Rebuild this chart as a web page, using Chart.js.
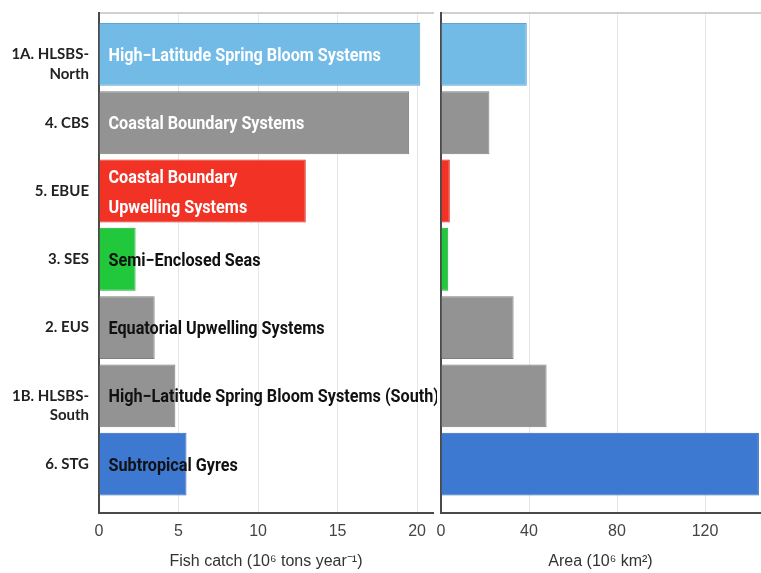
<!DOCTYPE html>
<html>
<head>
<meta charset="utf-8">
<script src="https://cdn.jsdelivr.net/npm/chart.js@4/dist/chart.umd.min.js"></script>
<style>
  html, body { margin: 0; padding: 0; background: #fff; }
  #wrap { position: relative; width: 761px; height: 573px; overflow: hidden; }
  .panel { position: absolute; top: 0; }
  #catchBox { left: 0; width: 437px; height: 573px; }
  #areaBox { left: 437px; width: 324px; height: 573px; }
</style>
</head>
<body>
<div id="wrap">
  <div class="panel" id="catchBox"><canvas id="catchChart"></canvas></div>
  <div class="panel" id="areaBox"><canvas id="areaChart"></canvas></div>
</div>
<script>
// Biome codes shown on the left axis (top to bottom)
const regionCodes = [
  ['1A. HLSBS-', 'North'],
  ['4. CBS'],
  ['5. EBUE'],
  ['3. SES'],
  ['2. EUS'],
  ['1B. HLSBS-', 'South'],
  ['6. STG']
];

// Full biome names written inside the catch bars
const biomeNames = [
  ['High\u2212Latitude Spring Bloom Systems'],
  ['Coastal Boundary Systems'],
  ['Coastal Boundary', 'Upwelling Systems'],
  ['Semi\u2212Enclosed Seas'],
  ['Equatorial Upwelling Systems'],
  ['High\u2212Latitude Spring Bloom Systems (South)'],
  ['Subtropical Gyres']
];

// Fish catch, 10^6 tons per year
const fishCatch = [20.2, 19.5, 13.0, 2.3, 3.5, 4.8, 5.5];

// Area, 10^6 km^2
const biomeArea = [39, 22, 4, 3.3, 33, 48, 144.5];

const barColors = ['#72bbe6', '#939393', '#f23224', '#22c83c', '#939393', '#939393', '#3d78d1'];
const barEdges  = ['#5fa4cf', '#7e7e7e', '#d8281b', '#1aad32', '#7e7e7e', '#7e7e7e', '#3266b6'];
const nameColors = ['#ffffff', '#ffffff', '#ffffff', '#111111', '#111111', '#111111', '#111111'];

const catchTicks = { stepSize: 5, max: 21 };
const areaTicks = { stepSize: 40, max: 145 };

// Writes the biome name inside each bar, starting near the bar's base,
// in a horizontally condensed bold face
const barNames = {
  id: 'barNames',
  afterDatasetsDraw(chart, args, opts) {
    if (!opts.names) return;
    const ctx = chart.ctx;
    const meta = chart.getDatasetMeta(0);
    const squeeze = 0.9;
    ctx.save();
    ctx.font = 'bold 18px Roboto, "DejaVu Sans", sans-serif';
    ctx.textBaseline = 'middle';
    ctx.textAlign = 'left';
    meta.data.forEach((bar, i) => {
      const lines = opts.names[i];
      const lh = 30;
      ctx.fillStyle = opts.colors[i];
      lines.forEach((ln, j) => {
        const y = bar.y + 2 + (j - (lines.length - 1) / 2) * lh;
        ctx.save();
        ctx.translate(bar.base + 9, y);
        ctx.scale(squeeze, 1);
        ctx.fillText(ln, 0, 0);
        ctx.restore();
      });
    });
    ctx.restore();
  }
};

function points(values) {
  return values.map((v, i) => ({ x: v, y: i }));
}

// Two-line codes hang below the bar centre: first line level with the bar
function codeLabel(v) {
  const code = regionCodes[v];
  return code.length > 1 ? [''].concat(code) : code;
}

function indexScale(showLabels, width) {
  return {
    type: 'linear',
    reverse: true,
    offset: false,
    min: -0.607,
    max: regionCodes.length - 1 + 0.716,
    afterBuildTicks: s => { s.ticks = regionCodes.map((_, i) => ({ value: i })); },
    afterFit: s => { s.width = width; s.paddingTop = 0; s.paddingBottom = 0; },
    grid: { display: false, drawTicks: false, offset: false },
    border: { display: true, color: '#4a4a4a', width: 2 },
    ticks: {
      display: showLabels,
      autoSkip: false,
      padding: 10,
      color: '#222',
      font: { family: 'Lato, "Open Sans", sans-serif', size: 15, weight: 'bold', lineHeight: 1.3 },
      callback: codeLabel
    }
  };
}

function valueScale(lim, title) {
  return {
    type: 'linear',
    position: 'bottom',
    min: 0,
    max: lim.max,
    afterFit: s => { s.height = 60; s.paddingLeft = 0; s.paddingRight = 0; },
    grid: { color: '#e6e6e6', lineWidth: 1, drawTicks: false },
    border: { display: true, color: '#4a4a4a', width: 2 },
    ticks: {
      stepSize: lim.stepSize,
      includeBounds: false,
      padding: 9,
      color: '#444',
      font: { family: '"Liberation Sans", Arial, sans-serif', size: 16 }
    },
    title: {
      display: true,
      text: title,
      color: '#333',
      padding: { top: 4, bottom: 2 },
      font: { family: '"Liberation Sans", Arial, sans-serif', size: 16 }
    }
  };
}

// Thin frame line along the top of each panel
const topFrame = {
  type: 'linear',
  position: 'top',
  afterFit: s => { s.height = 0; s.paddingLeft = 0; s.paddingRight = 0; },
  grid: { display: false, drawTicks: false },
  border: { display: true, color: '#d0d0d0', width: 2 },
  ticks: { display: false }
};

function makeChart(id, values, lim, title, withLabels, yWidth, rightPad, names) {
  return new Chart(document.getElementById(id), {
    type: 'bar',
    data: {
      datasets: [{
        data: points(values),
        backgroundColor: barColors,
        borderColor: barEdges,
        borderWidth: 1,
        barPercentage: 0.92,
        categoryPercentage: 1
      }]
    },
    options: {
      indexAxis: 'y',
      responsive: true,
      maintainAspectRatio: false,
      animation: false,
      layout: { padding: { top: 13, right: rightPad, bottom: 0, left: 0 } },
      scales: {
        x: valueScale(lim, title),
        x2: topFrame,
        y: indexScale(withLabels, yWidth)
      },
      plugins: {
        legend: { display: false },
        tooltip: { enabled: false },
        barNames: names ? { names: names, colors: nameColors } : {}
      }
    },
    plugins: [barNames]
  });
}

makeChart('catchChart', fishCatch, catchTicks, 'Fish catch (10\u2076 tons year\u207B\u00B9)', true, 99, 4, biomeNames);
makeChart('areaChart', biomeArea, areaTicks, 'Area (10\u2076 km\u00B2)', false, 4, 1, null);
</script>
</body>
</html>
